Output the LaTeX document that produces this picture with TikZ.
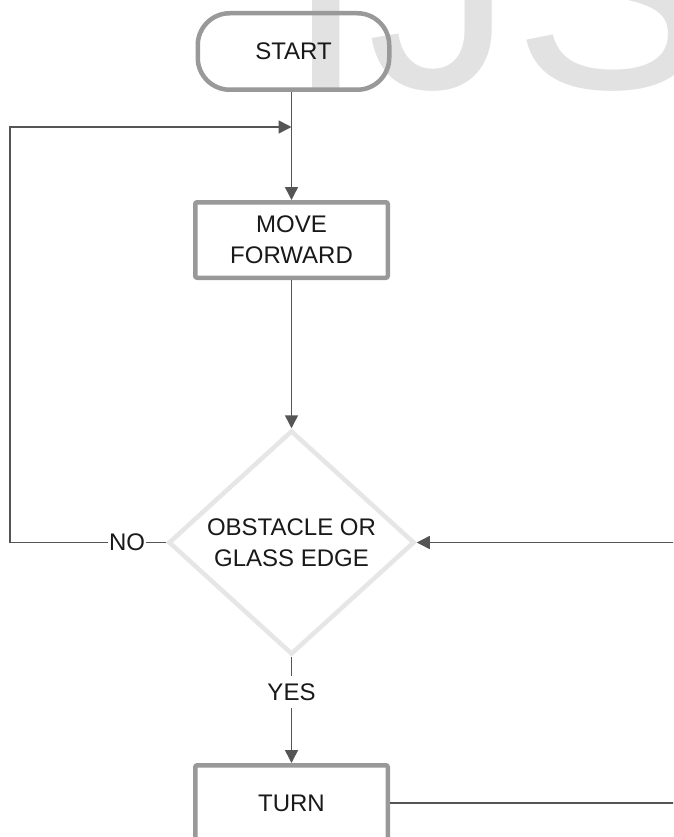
\documentclass[tikz,border=0pt]{standalone}
\usepackage{fontspec}
\setmainfont{Liberation Sans}
\usetikzlibrary{arrows.meta,shapes.geometric}
\definecolor{linec}{HTML}{555555}
\definecolor{boxc}{HTML}{999999}
\definecolor{diac}{HTML}{E6E6E6}
\definecolor{wmc}{HTML}{E2E2E2}
\begin{document}
\begin{tikzpicture}[x=1pt,y=-1pt,
  txt/.style={font=\fontsize{24}{31}\selectfont, text=black!90, align=center},
  term/.style={txt, draw=boxc, line width=4.5pt, rounded corners=32pt, minimum width=191.5pt, minimum height=76.5pt, inner sep=0pt},
  proc/.style={txt, draw=boxc, line width=4.5pt, rounded corners=2pt, minimum width=192.5pt, minimum height=75.5pt, inner sep=0pt, fill=white},
  dec/.style={txt, diamond, draw=diac, line width=4.5pt, aspect=1.1, minimum width=246pt, minimum height=224pt, inner sep=0pt},
  conn/.style={draw=linec, line width=1.5pt},
  arr/.style={conn, -{Triangle[length=13pt,width=13pt]}},
  lbl/.style={txt, fill=white, inner xsep=1pt, inner ysep=7pt},
  wmark/.style={font=\fontsize{293}{293}\selectfont, text=wmc, inner sep=0pt, anchor=base west}
]
\useasboundingbox (0,0) rectangle (673,837);
\clip (0,0) rectangle (673,837);
\fill[white] (0,0) rectangle (673,837);
% watermark
\node[wmark] (wm) at (285.5,89) {IJS};
% nodes
\node[term] (start) at (293.5,51.5) {START};
\node[proc] (move) at (291.5,240) {MOVE\\FORWARD};
\node[dec] (dia) at (291.5,542.5) {OBSTACLE OR\\GLASS EDGE};
\node[proc] (turn) at (291.5,803) {TURN};
\node[lbl] (no) at (127,542.5) {NO};
\node[lbl, inner xsep=3pt] (yes) at (291.5,692) {YES};
\coordinate (loopbl) at (10,542.5);
\coordinate (join) at (291.5,127);
\coordinate (rx) at (700,542.5);
% connectors
\draw[arr] (move.north |- start.south) -- (move.north);
\draw[arr] (move.south) -- (dia.north);
\draw[conn] (dia.west) -- (no.east);
\draw[arr] (no.west) -- (loopbl) |- (join);
\draw[conn] (dia.south) -- (yes.north);
\draw[arr] (yes.south) -- (turn.north);
\draw[arr] (turn.east) -| (rx) -- (dia.east);
\end{tikzpicture}
\end{document}
